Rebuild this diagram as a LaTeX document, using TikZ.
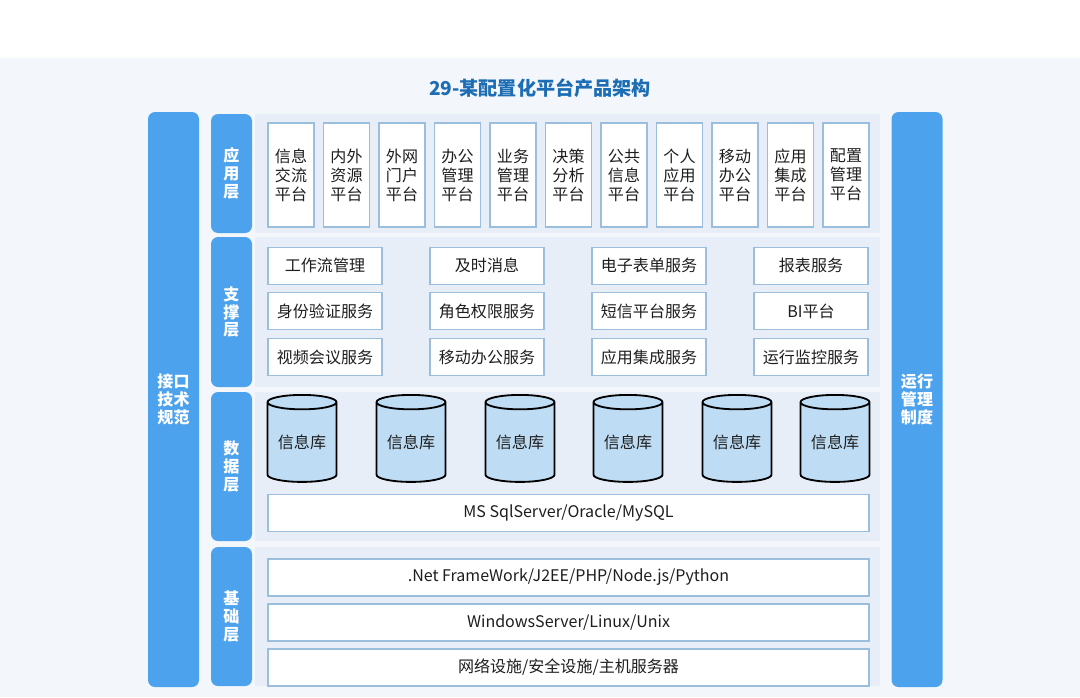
\documentclass[tikz,border=0pt]{standalone}
\usepackage{fontspec}
\setmainfont{Noto Sans CJK SC}
\usepackage{xcolor}
\usetikzlibrary{positioning,shapes.geometric}
\definecolor{pageBg}{HTML}{F3F6FA}
\definecolor{layerBg}{HTML}{E8EEF7}
\definecolor{barBlue}{HTML}{4DA2EE}
\definecolor{boxDraw}{HTML}{9CBEDD}
\definecolor{titleBlue}{HTML}{1D6DB5}
\definecolor{dbFill}{HTML}{BEDCF4}
\definecolor{textCol}{HTML}{1E1E1E}

\begin{document}
\begin{tikzpicture}[
  font=\fontsize{11.4}{13.5}\selectfont, text=textCol,
  bar/.style={fill=barBlue, rounded corners=5pt, text=white, align=center,
              font=\bfseries\fontsize{11.4}{12.8}\selectfont, inner sep=0pt},
  sidebar/.style={bar, minimum width=1.275cm, minimum height=14.375cm},
  layerlbl/.style={bar, minimum width=1.025cm},
  appbox/.style={draw=boxDraw, line width=0.8pt, fill=white, align=center,
              minimum width=1.15cm, minimum height=2.6cm, inner sep=0pt, outer sep=0pt},
  svcbox/.style={draw=boxDraw, line width=0.8pt, fill=white,
              minimum width=2.85cm, minimum height=0.925cm, inner sep=0pt, outer sep=0pt},
  widebox/.style={svcbox, minimum width=15.025cm},
  dbcyl/.style={cylinder, shape border rotate=90, aspect=0.3, draw=black, line width=1.3pt,
              fill=dbFill, minimum width=1.725cm, minimum height=2.175cm, inner sep=0pt},
]
\useasboundingbox (0,0) rectangle (27,-17.425);
\fill[pageBg] (0,-1.45) rectangle (27,-17.425);

% ---- Título ----
\node[font=\bfseries\fontsize{13.6}{16}\selectfont, text=titleBlue] (title) at (13.5,-2.2)
  {29-某配置化平台产品架构};

% ---- Barras laterales ----
\node[sidebar] (iface) at (4.3375,-9.9875) {接口\\技术\\规范};
\node[sidebar] (ops)   at (22.925,-9.9875) {运行\\管理\\制度};

% ---- Fondos de capa ----
\fill[layerBg] (6.375,-2.85)  rectangle (22.0,-5.825);
\fill[layerBg] (6.375,-5.925) rectangle (22.0,-9.675);
\fill[layerBg] (6.375,-9.8)   rectangle (22.0,-13.525);
\fill[layerBg] (6.375,-13.675) rectangle (22.0,-17.15);

% ---- Etiquetas de capa ----
\node[layerlbl, minimum height=2.975cm] (appL)  at (5.7875,-4.3375)  {应\\用\\层};
\node[layerlbl, minimum height=3.75cm]  (supL)  at (5.7875,-7.8)     {支\\撑\\层};
\node[layerlbl, minimum height=3.725cm] (dataL) at (5.7875,-11.6625) {数\\据\\层};
\node[layerlbl, minimum height=3.475cm] (baseL) at (5.7875,-15.4125) {基\\础\\层};

% ---- Capa de aplicación ----
\node[appbox] (app1) at (7.275,-4.375) {信息\\交流\\平台};
\foreach \prev/\cur/\txt in {1/2/{内外\\资源\\平台}, 2/3/{外网\\门户\\平台}, 3/4/{办公\\管理\\平台},
    4/5/{业务\\管理\\平台}, 5/6/{决策\\分析\\平台}, 6/7/{公共\\信息\\平台}, 7/8/{个人\\应用\\平台},
    8/9/{移动\\办公\\平台}, 9/10/{应用\\集成\\平台}, 10/11/{配置\\管理\\平台}}
  \node[appbox, right=0.2375cm of app\prev] (app\cur) {\txt};

% ---- Capa de soporte ----
\node[svcbox] (wf)   at (8.125,-6.64) {工作流管理};
\node[svcbox, right=1.2cm of wf]   (msg)  {及时消息};
\node[svcbox, right=1.2cm of msg]  (form) {电子表单服务};
\node[svcbox, right=1.2cm of form] (rep)  {报表服务};
\node[svcbox, below=0.22cm of wf]   (auth) {身份验证服务};
\node[svcbox, below=0.22cm of msg]  (role) {角色权限服务};
\node[svcbox, below=0.22cm of form] (sms)  {短信平台服务};
\node[svcbox, below=0.22cm of rep]  (bi)   {BI平台};
\node[svcbox, below=0.22cm of auth] (video) {视频会议服务};
\node[svcbox, below=0.22cm of role] (mob)  {移动办公服务};
\node[svcbox, below=0.22cm of sms]  (integ) {应用集成服务};
\node[svcbox, below=0.22cm of bi]   (mon)  {运行监控服务};

% ---- Capa de datos ----
\foreach \n/\x in {1/7.55, 2/10.275, 3/13.0, 4/15.7, 5/18.425, 6/20.875}
  \node[dbcyl, anchor=shape center] (db\n) at (\x,-10.96) {信息库};
\node[widebox] (dbms) at (14.2125,-12.825) {MS SqlServer/Oracle/MySQL};

% ---- Capa base ----
\node[widebox] (fw)  at (14.2125,-14.4375) {.Net FrameWork/J2EE/PHP/Node.js/Python};
\node[widebox, below=0.2cm of fw] (os)  {WindowsServer/Linux/Unix};
\node[widebox, below=0.2cm of os] (net) {网络设施/安全设施/主机服务器};

\end{tikzpicture}
\end{document}
